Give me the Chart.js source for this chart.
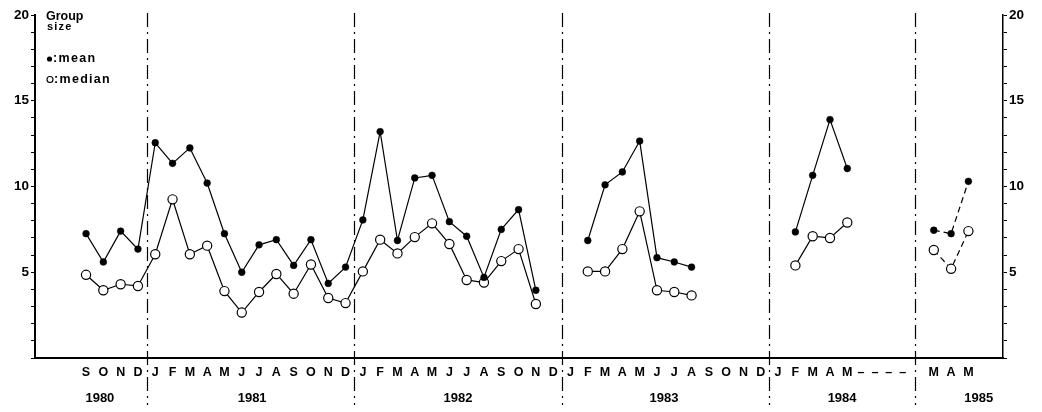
<!DOCTYPE html>
<html><head><meta charset="utf-8">
<script src="https://cdn.jsdelivr.net/npm/chart.js@4.4.1/dist/chart.umd.min.js"></script>
<style>html,body{margin:0;padding:0;background:#fff}#wrap{width:1042px;height:412px}</style>
</head><body><div id="wrap"><canvas id="c" width="1042" height="412"></canvas></div>
<script>
// Month letters on a broken time line: Sep 1980 .. May 1984, gap, Mar..May 1985
const monthTicks = ['S','O','N','D',
  'J','F','M','A','M','J','J','A','S','O','N','D',
  'J','F','M','A','M','J','J','A','S','O','N','D',
  'J','F','M','A','M','J','J','A','S','O','N','D',
  'J','F','M','A','M',
  '','','','',
  'M','A','M'];
const gapLabel = '–  –  –  –';
const gapPos = 46.0;
const years = ['1980','1981','1982','1983','1984','1985'];
const yearCenters = [0.8, 9.6, 21.5, 33.4, 43.7, 51.6];
const yearBreaks = [3.5, 15.5, 27.5, 39.5, 47.9];
const firstDashedIndex = 49;

// Group size per month
const meanSize = [
  7.25, 5.6, 7.4, 6.35,
  12.55, 11.35, 12.25, 10.2, 7.25, 5.0, 6.6, 6.9, 5.4, 6.9, 4.35, 5.3,
  8.05, 13.2, 6.85, 10.5, 10.65, 7.95, 7.1, 4.7, 7.5, 8.65, 3.95, null,
  null, 6.85, 10.1, 10.85, 12.65, 5.85, 5.6, 5.3, null, null, null, null,
  null, 7.35, 10.65, 13.9, 11.05,
  null, null, null, null,
  7.45, 7.25, 10.3];
const medianSize = [
  4.85, 3.95, 4.3, 4.2,
  6.05, 9.25, 6.05, 6.55, 3.9, 2.65, 3.85, 4.9, 3.75, 5.45, 3.5, 3.2,
  5.05, 6.9, 6.1, 7.05, 7.85, 6.65, 4.55, 4.4, 5.65, 6.35, 3.15, null,
  null, 5.05, 5.05, 6.35, 8.55, 3.95, 3.85, 3.65, null, null, null, null,
  null, 5.4, 7.1, 7.0, 7.9,
  null, null, null, null,
  6.3, 5.2, 7.4];

const FONT = 'Liberation Sans, Arial, Helvetica, sans-serif';
const toPoints = arr => arr.map((v, i) => ({x: i, y: v}));
const dashAfter = ctx => ctx.p0.parsed.x >= firstDashedIndex ? [6, 4] : undefined;

const X_MIN = -2.95, X_MAX = 53.0;

const yearBreakLines = {
  id: 'yearBreakLines',
  beforeDatasetsDraw(chart) {
    const {ctx} = chart;
    const xs = chart.scales.x;
    ctx.save();
    ctx.strokeStyle = '#000';
    ctx.lineWidth = 1.2;
    ctx.setLineDash([14, 5, 2, 5]);
    yearBreaks.forEach(v => {
      const px = Math.round(xs.getPixelForValue(v)) + 0.5;
      ctx.beginPath();
      ctx.moveTo(px, 13);
      ctx.lineTo(px, 405);
      ctx.stroke();
    });
    ctx.restore();
  }
};

const keyBox = {
  id: 'keyBox',
  afterDraw(chart) {
    const {ctx} = chart;
    ctx.save();
    ctx.fillStyle = '#000';
    ctx.strokeStyle = '#000';
    ctx.textBaseline = 'alphabetic';
    ctx.font = 'bold 12.5px ' + FONT;
    ctx.fillText('Group', 46, 20);
    ctx.font = 'bold 11px ' + FONT;
    ctx.letterSpacing = '1.2px';
    ctx.fillText('size', 47, 30);
    ctx.font = 'bold 12.5px ' + FONT;
    ctx.letterSpacing = '1.3px';
    ctx.beginPath();
    ctx.arc(49.5, 59, 2.6, 0, Math.PI * 2);
    ctx.fill();
    ctx.fillText(':mean', 53, 62);
    ctx.beginPath();
    ctx.lineWidth = 1.1;
    ctx.arc(50, 79.5, 3, 0, Math.PI * 2);
    ctx.stroke();
    ctx.fillText(':median', 54, 83);
    ctx.restore();
  }
};

const yAxis = (pos, width) => ({
  type: 'linear', position: pos, min: 0, max: 20,
  grid: {display: true, drawOnChartArea: false, drawTicks: true, tickLength: 4, color: '#000', lineWidth: 1},
  border: {display: true, color: '#000', width: pos === 'left' ? 2 : 1.5},
  ticks: {stepSize: 1, autoSkip: false, padding: 2, color: '#000',
    font: {family: FONT, size: 13.5, weight: 'bold'},
    callback: v => (v > 0 && v % 5 === 0) ? String(v) : ''},
  afterFit: a => { a.width = width; }
});

new Chart(document.getElementById('c'), {
  type: 'line',
  data: {
    datasets: [
      {label: 'mean', data: toPoints(meanSize), xAxisID: 'x', yAxisID: 'y',
       borderColor: '#000', borderWidth: 1.2, spanGaps: false,
       pointRadius: 3.4, pointBackgroundColor: '#000', pointBorderColor: '#000', pointBorderWidth: 0.5,
       segment: {borderDash: dashAfter}},
      {label: 'median', data: toPoints(medianSize), xAxisID: 'x', yAxisID: 'y',
       borderColor: '#000', borderWidth: 1.2, spanGaps: false,
       pointRadius: 4.6, pointBackgroundColor: '#fff', pointBorderColor: '#000', pointBorderWidth: 1.2,
       segment: {borderDash: dashAfter}}
    ]
  },
  options: {
    responsive: false, animation: false,
    layout: {padding: {top: 15, left: 0, right: 0, bottom: 0}},
    plugins: {legend: {display: false}, tooltip: {enabled: false}},
    scales: {
      x: {
        type: 'linear', position: 'bottom', min: X_MIN, max: X_MAX, weight: 0,
        grid: {display: false, drawTicks: false},
        border: {display: true, color: '#000', width: 2},
        ticks: {autoSkip: false, maxRotation: 0, padding: 7, color: '#000',
          font: {family: FONT, size: 12.5, weight: 'bold'},
          callback: v => v === gapPos ? gapLabel : (monthTicks[v] || '')},
        afterBuildTicks: a => {
          const t = [];
          monthTicks.forEach((m, i) => { if (m) t.push({value: i}); });
          t.push({value: gapPos});
          a.ticks = t;
        },
        afterFit: a => { a.height = 27; a.paddingLeft = 0; a.paddingRight = 0; }
      },
      xYear: {
        type: 'linear', position: 'bottom', min: X_MIN, max: X_MAX, weight: 1,
        grid: {display: false, drawTicks: false},
        border: {display: false},
        ticks: {autoSkip: false, maxRotation: 0, padding: 6, color: '#000',
          font: {family: FONT, size: 13, weight: 'bold'},
          callback: (v, i) => years[i]},
        afterBuildTicks: a => { a.ticks = yearCenters.map(v => ({value: v})); },
        afterFit: a => { a.height = 27; a.paddingLeft = 0; a.paddingRight = 0; }
      },
      y: yAxis('left', 35),
      yR: yAxis('right', 39)
    }
  },
  plugins: [yearBreakLines, keyBox]
});
</script>
</body></html>
